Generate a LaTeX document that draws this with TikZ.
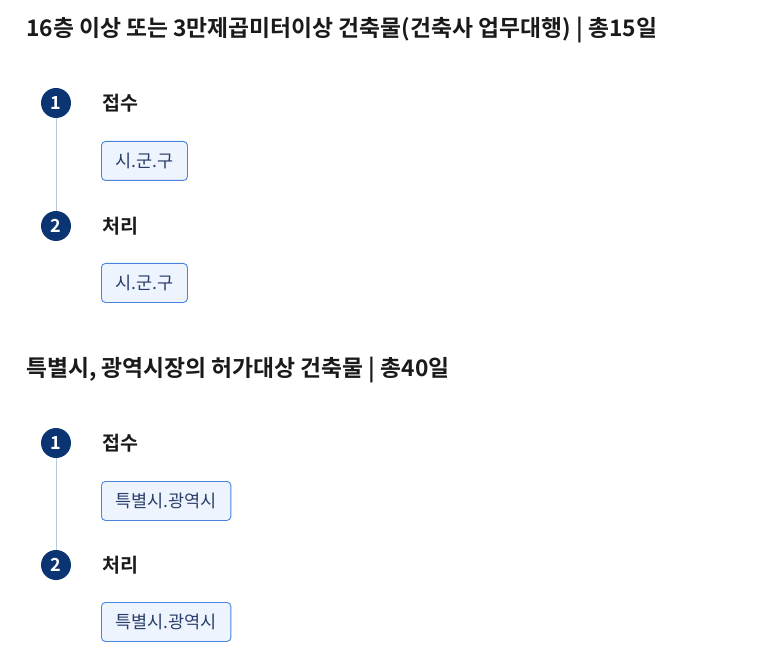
\documentclass[tikz,border=0pt]{standalone}
\usepackage{fontspec}
\setmainfont{Noto Sans CJK KR}
\newfontfamily\krbold{Noto Sans CJK KR Bold}
\usetikzlibrary{positioning}

\definecolor{navy}{HTML}{0B3572}
\definecolor{boxline}{HTML}{4A84E0}
\definecolor{boxfill}{HTML}{EEF4FD}
\definecolor{boxtext}{HTML}{2B3E6B}
\definecolor{railcol}{HTML}{B9C7DB}
\definecolor{titlecol}{HTML}{1A1A1A}

\tikzset{
  title/.style={anchor=west,inner sep=0pt,text=titlecol,font=\krbold\fontsize{22.8}{26}\selectfont},
  stepnum/.style={circle,fill=navy,minimum size=30pt,inner sep=0pt,text=white,font=\krbold\fontsize{18}{20}\selectfont},
  steplabel/.style={anchor=west,inner sep=0pt,text=titlecol,font=\krbold\fontsize{19.5}{22}\selectfont},
  agency/.style={anchor=north west,draw=boxline,fill=boxfill,rounded corners=4pt,line width=0.9pt,
    minimum height=39pt,inner xsep=14pt,text=boxtext,font=\fontsize{17.5}{20}\selectfont},
  rail/.style={draw=railcol,line width=1pt}
}

\begin{document}
\begin{tikzpicture}[x=1pt,y=1pt,yscale=-1,xscale=1]
	\useasboundingbox (0,0) rectangle (766,671);

	% first case
	\draw (26,30) node [title] (t1) {16층 이상 또는 3만제곱미터이상 건축물(건축사 업무대행) | 총15일};
	\draw (56,103) node [stepnum] (a1) {1};
	\draw (56,226) node [stepnum] (a2) {2};
	\draw [rail] (a1) -- (a2);
	\draw (102,103) node [steplabel] (la1) {접수};
	\draw (102,226) node [steplabel] (la2) {처리};
	\draw (101,141) node [agency] (ba1) {시.군.구};
	\draw (101,263) node [agency] (ba2) {시.군.구};

	% second case
	\draw (26,370) node [title] (t2) {특별시, 광역시장의 허가대상 건축물 | 총40일};
	\draw (56,443) node [stepnum] (b1) {1};
	\draw (56,565) node [stepnum] (b2) {2};
	\draw [rail] (b1) -- (b2);
	\draw (102,443) node [steplabel] (lb1) {접수};
	\draw (102,565) node [steplabel] (lb2) {처리};
	\draw (101,481) node [agency] (bb1) {특별시.광역시};
	\draw (101,602) node [agency] (bb2) {특별시.광역시};
\end{tikzpicture}
\end{document}
